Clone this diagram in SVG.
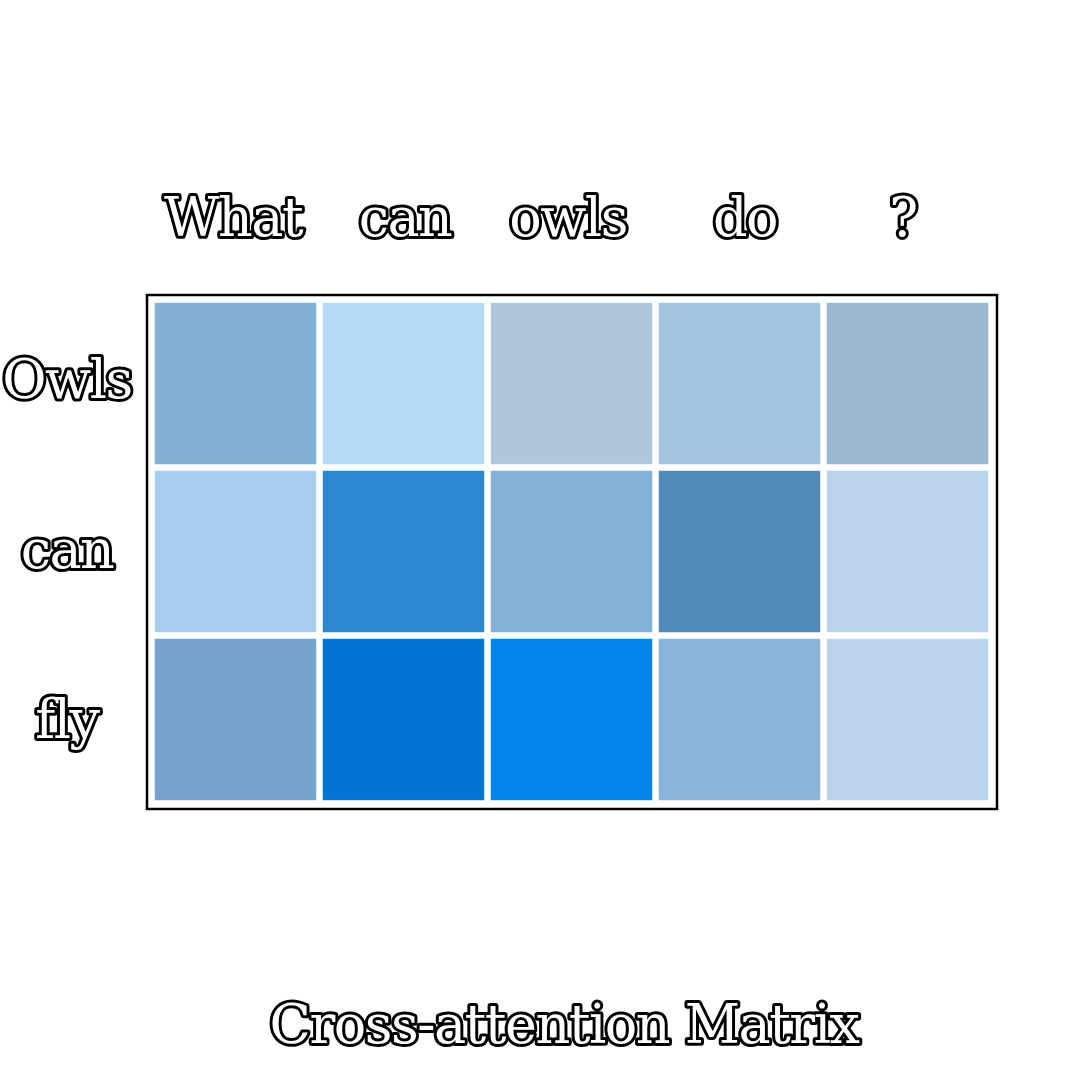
<svg xmlns="http://www.w3.org/2000/svg" width="1080" height="1080" viewBox="0 0 1080 1080">
<style>
.t{font-family:"DejaVu Serif","Liberation Serif",serif;font-size:54px;font-weight:normal;fill:#fff;stroke:#000;stroke-width:6;stroke-linejoin:round;paint-order:stroke;text-anchor:middle;letter-spacing:-1.5px}
.c{stroke-width:1.5}
</style>
<rect width="1080" height="1080" fill="#fff"/>
<g id="matrix">
<rect x="147" y="295" width="850" height="514" fill="#fff" stroke="#000" stroke-width="2.5"/>
<g id="row1">
<rect class="c" x="155.5" y="303.5" width="160" height="160" fill="#82b0d6" stroke="#85b2d8"/>
<rect class="c" x="323.5" y="303.5" width="160" height="160" fill="#b5daf6" stroke="#b8dcf7"/>
<rect class="c" x="491.5" y="303.5" width="160" height="160" fill="#adc7dc" stroke="#b0c9de"/>
<rect class="c" x="659.5" y="303.5" width="160" height="160" fill="#a1c4e1" stroke="#a4c6e3"/>
<rect class="c" x="827.5" y="303.5" width="160" height="160" fill="#9bb8d1" stroke="#9ebad3"/>
</g>
<g id="row2">
<rect class="c" x="155.5" y="471.5" width="160" height="160" fill="#a8cdef" stroke="#abcff0"/>
<rect class="c" x="323.5" y="471.5" width="160" height="160" fill="#2a87d0" stroke="#2f8ad2"/>
<rect class="c" x="491.5" y="471.5" width="160" height="160" fill="#83b1d7" stroke="#86b3d9"/>
<rect class="c" x="659.5" y="471.5" width="160" height="160" fill="#4f8ab8" stroke="#538dba"/>
<rect class="c" x="827.5" y="471.5" width="160" height="160" fill="#b8d3ea" stroke="#bbd5eb"/>
</g>
<g id="row3">
<rect class="c" x="155.5" y="639.5" width="160" height="160" fill="#73a3cb" stroke="#76a5cd"/>
<rect class="c" x="323.5" y="639.5" width="160" height="160" fill="#0275d3" stroke="#0778d5"/>
<rect class="c" x="491.5" y="639.5" width="160" height="160" fill="#0284ea" stroke="#0787ec"/>
<rect class="c" x="659.5" y="639.5" width="160" height="160" fill="#8ab4d8" stroke="#8db6da"/>
<rect class="c" x="827.5" y="639.5" width="160" height="160" fill="#b8d3ea" stroke="#bbd5eb"/>
</g>
</g>
<g id="col-labels">
<text class="t" x="233" y="236">What</text>
<text class="t" x="405" y="236">can</text>
<text class="t" x="568" y="236">owls</text>
<text class="t" x="745" y="236">do</text>
<text class="t" x="903" y="236">?</text>
</g>
<g id="row-labels">
<text class="t" x="67" y="398">Owls</text>
<text class="t" x="67" y="568">can</text>
<text class="t" x="67" y="738">fly</text>
</g>
<g id="connectors"></g>
<text id="title" class="t" x="564" y="1043">Cross-attention Matrix</text>
</svg>
